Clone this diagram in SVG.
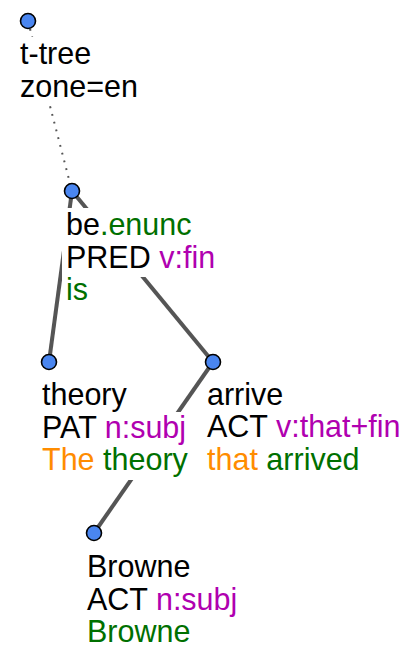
<svg xmlns="http://www.w3.org/2000/svg" width="414" height="649" viewBox="0 0 414 649">
<style>
text{font-family:"Liberation Sans",Arial,sans-serif;font-size:30.5px;fill:#000}
.g{fill:#007000}.p{fill:#b000b0}.o{fill:#ff8c00}
.bg{fill:#fff}
.e{stroke:#555;stroke-width:4;fill:none}
.d{stroke:#555;stroke-width:2;stroke-dasharray:2 6;fill:none}
.n{fill:#4a86f0;stroke:#000;stroke-width:1.6}
</style>
<rect width="414" height="649" fill="#fff"/>
<g id="connectors">
<line class="d" x1="28" y1="21" x2="72" y2="191"/>
<line class="e" x1="72" y1="191" x2="49" y2="362"/>
<line class="e" x1="72" y1="191" x2="213" y2="362"/>
<line class="e" x1="213" y1="362" x2="94" y2="533"/>
</g>
<g id="root">
<rect class="bg" x="16" y="37" width="77" height="34"/>
<rect class="bg" x="16" y="70" width="124" height="34"/>
<circle class="n" cx="28" cy="21" r="7.5"/>
<text x="20" y="64">t-tree</text>
<text x="20" y="97">zone=en</text>
</g>
<g id="be">
<rect class="bg" x="62" y="208" width="132" height="34"/>
<rect class="bg" x="62" y="241" width="157" height="36"/>
<rect class="bg" x="62" y="276" width="30" height="32"/>
<circle class="n" cx="72" cy="191" r="7.5"/>
<text x="66" y="235">be<tspan class="g">.enunc</tspan></text>
<text x="66" y="268">PRED <tspan class="p">v:fin</tspan></text>
<text x="66" y="300" class="g">is</text>
</g>
<g id="theory">
<rect class="bg" x="38" y="379" width="92" height="34"/>
<rect class="bg" x="38" y="412" width="156" height="34"/>
<rect class="bg" x="38" y="445" width="152" height="35"/>
<circle class="n" cx="49" cy="362" r="7.5"/>
<text x="42" y="405">theory</text>
<text x="42" y="438">PAT <tspan class="p">n:subj</tspan></text>
<text x="42" y="470"><tspan class="o">The</tspan> <tspan class="g">theory</tspan></text>
</g>
<g id="arrive">
<circle class="n" cx="213" cy="362" r="7.5"/>
<text x="207" y="405">arrive</text>
<text x="207" y="437">ACT <tspan class="p">v:that+fin</tspan></text>
<text x="207" y="470"><tspan class="o">that</tspan> <tspan class="g">arrived</tspan></text>
</g>
<g id="browne">
<circle class="n" cx="94" cy="533" r="7.5"/>
<text x="87" y="577">Browne</text>
<text x="87" y="610">ACT <tspan class="p">n:subj</tspan></text>
<text x="87" y="642" class="g">Browne</text>
</g>
</svg>
